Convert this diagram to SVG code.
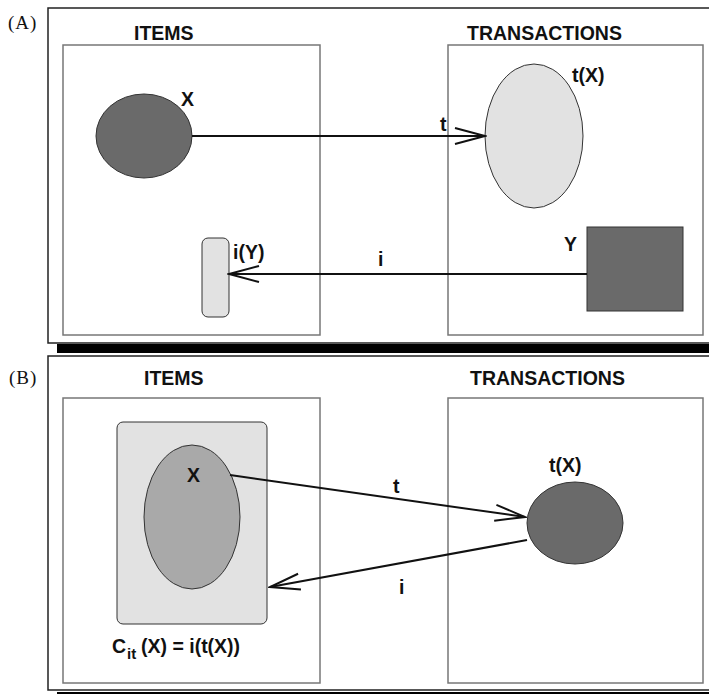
<svg xmlns="http://www.w3.org/2000/svg" width="709" height="694" viewBox="0 0 709 694">
<style>
.frame{fill:none;stroke:#222;stroke-width:1.5}
.inner{fill:none;stroke:#777;stroke-width:1.5}
.lbl{font-family:"Liberation Sans",Arial,sans-serif;font-weight:bold;font-size:19.5px;fill:#111}
.pl{font-family:"Liberation Serif","Times New Roman",serif;font-size:19px;fill:#111;letter-spacing:1px}
.dark{fill:#6a6a6a;stroke:#333;stroke-width:1}
.light{fill:#e2e2e2;stroke:#333;stroke-width:1}
.mid{fill:#a9a9a9;stroke:#333;stroke-width:1}
.conn{stroke:#111;stroke-width:2;fill:none}
</style>
<defs>
<marker id="arr" markerUnits="userSpaceOnUse" markerWidth="34" markerHeight="20" viewBox="-32 -10 34 20" refX="0" refY="0" orient="auto">
<path d="M-30,-8 L0,0 L-30,8" fill="none" stroke="#111" stroke-width="2"/>
</marker>
</defs>
<rect width="709" height="694" fill="#fff"/>

<g id="panelA">
<path class="frame" d="M712,8 H48 V343 H712"/>
<rect x="57" y="344" width="660" height="9" fill="#000"/>
<text class="pl" x="8" y="29">(A)</text>
<g id="itemsA">
<rect class="inner" x="63" y="45" width="257" height="290"/>
<text class="lbl" x="134" y="40">ITEMS</text>
</g>
<g id="transA">
<rect class="inner" x="448" y="45" width="255" height="290"/>
<text class="lbl" x="467" y="40">TRANSACTIONS</text>
</g>
<g id="XA">
<ellipse class="dark" cx="144" cy="136" rx="48" ry="42"/>
<text class="lbl" x="181" y="106">X</text>
</g>
<g id="tXA">
<ellipse class="light" cx="534" cy="136" rx="49" ry="72"/>
<text class="lbl" x="572" y="82">t(X)</text>
</g>
<g id="YA">
<rect class="dark" x="587" y="227" width="96" height="84"/>
<text class="lbl" x="564" y="251">Y</text>
</g>
<g id="iYA">
<rect class="light" x="202" y="238" width="27" height="79" rx="6"/>
<text class="lbl" x="233" y="259">i(Y)</text>
</g>
</g>

<g id="panelB">
<path class="frame" d="M712,356 H48 V690 H712"/>
<rect x="57" y="692" width="660" height="4" fill="#000"/>
<text class="pl" x="9" y="384">(B)</text>
<g id="itemsB">
<rect class="inner" x="63" y="398" width="257" height="285"/>
<text class="lbl" x="144" y="385">ITEMS</text>
</g>
<g id="transB">
<rect class="inner" x="448" y="398" width="255" height="285"/>
<text class="lbl" x="470" y="385">TRANSACTIONS</text>
</g>
<g id="CitB">
<rect class="light" x="117" y="422" width="150" height="202" rx="6"/>
<text class="lbl" x="112" y="653">C<tspan x="127" y="659" font-size="15">it</tspan><tspan x="141" y="653">(X) = i(t(X))</tspan></text>
</g>
<g id="XB">
<ellipse class="mid" cx="192" cy="517" rx="48" ry="72"/>
<text class="lbl" x="187" y="482">X</text>
</g>
<g id="tXB">
<ellipse class="dark" cx="575" cy="523" rx="48" ry="41"/>
<text class="lbl" x="549" y="472">t(X)</text>
</g>
</g>

<g id="connectors">
<line class="conn" x1="192" y1="136" x2="485" y2="136" marker-end="url(#arr)"/>
<text class="lbl" x="440" y="131">t</text>
<line class="conn" x1="587" y1="274" x2="229" y2="274" marker-end="url(#arr)"/>
<text class="lbl" x="378" y="266">i</text>
<line class="conn" x1="230" y1="475" x2="525" y2="517" marker-end="url(#arr)"/>
<text class="lbl" x="393" y="493">t</text>
<line class="conn" x1="527" y1="540" x2="270" y2="587" marker-end="url(#arr)"/>
<text class="lbl" x="399" y="594">i</text>
</g>
</svg>
